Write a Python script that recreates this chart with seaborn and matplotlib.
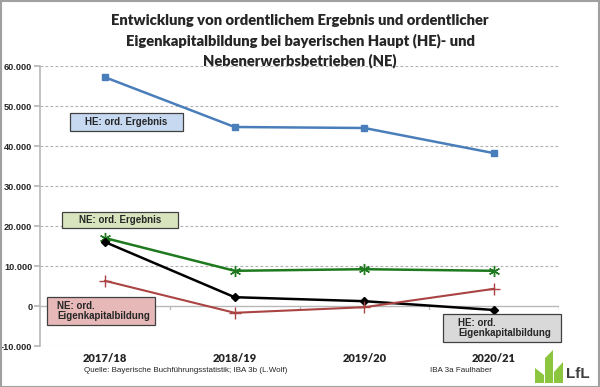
import numpy as np
import pandas as pd
import matplotlib
matplotlib.use("Agg")
import matplotlib.pyplot as plt
import matplotlib.patches as mpatches
import seaborn as sns

years = ["2017/18", "2018/19", "2019/20", "2020/21"]
he_ergebnis = [57200, 44750, 44500, 38200]
ne_ergebnis = [17000, 8800, 9200, 8800]
he_eigenkapital = [16000, 2200, 1200, -1000]
ne_eigenkapital = [6300, -1700, -300, 4300]
y_ticks = [-10000, 0, 10000, 20000, 30000, 40000, 50000, 60000]
y_tick_labels = ["-10.000", "0", "10.000", "20.000", "30.000", "40.000", "50.000", "60.000"]

sns.set_theme(style="white")
plt.rcParams["font.family"] = ["Liberation Sans", "DejaVu Sans"]

W, H = 600, 387
fig = plt.figure(figsize=(6, 3.87), dpi=100)
ax = fig.add_axes([40 / W, 1 - 346 / H, 519 / W, 280 / H])


def fx(px):
    return px / W


def fy(py):
    return 1 - py / H


x = np.arange(len(years))
series = [
    (he_ergebnis, "#4a7ebb", "s", 4, 1.8),
    (ne_ergebnis, "#1f7a1f", (6, 2, 0), 8, 1.8),
    (he_eigenkapital, "#000000", "D", 4, 1.8),
    (ne_eigenkapital, "#a94442", "+", 8, 1.5),
]
for vals, col, mk, ms, lw in series:
    df = pd.DataFrame({"x": x, "y": vals})
    sns.lineplot(data=df, x="x", y="y", ax=ax, color=col, marker=mk,
                 markersize=ms, linewidth=lw, markeredgecolor=col,
                 markeredgewidth=1.0)

ax.set_xlim(-0.5, 3.5)
ax.set_ylim(-10000, 60000)
ax.set_yticks(y_ticks)
ax.set_yticklabels(y_tick_labels, fontsize=6.6, fontweight="bold")
for yt in y_ticks:
    if yt != 0:
        ax.axhline(yt, color="#b0b0b0", linestyle=(0, (2.5, 2)), linewidth=0.8, zorder=0)
ax.axhline(0, color="#b8b8b8", linewidth=1.0, zorder=0)
for xb in [0.5, 1.5, 2.5, 3.5]:
    ax.plot([xb, xb], [0, -700], color="#b8b8b8", linewidth=1.0, zorder=0)
ax.set_xticks(x)
ax.set_xticklabels(years, fontsize=8, fontweight="heavy", family=["Lato", "DejaVu Sans"])
ax.tick_params(axis="x", length=0, pad=5)
ax.tick_params(axis="y", length=4, color="#b8b8b8", left=True, pad=1.5)
ax.set_xlabel("")
ax.set_ylabel("")
for s in ["top", "right", "bottom"]:
    ax.spines[s].set_visible(False)
ax.spines["left"].set_color("#b8b8b8")
ax.spines["left"].set_linewidth(1.2)


def label_box(x0, y0, x1, y1, fc, text, tx=None):
    fig.patches.append(mpatches.Rectangle((fx(x0), fy(y1)), fx(x1) - fx(x0), fy(y0) - fy(y1),
                                          transform=fig.transFigure, fc=fc, ec="#404040",
                                          lw=0.9, zorder=5))
    if tx is None:
        fig.text(fx((x0 + x1) / 2), fy((y0 + y1) / 2), text, ha="center", va="center",
                 fontsize=7, fontweight="bold", zorder=6)
    else:
        fig.text(fx(tx), fy((y0 + y1) / 2), text, ha="left", va="center",
                 multialignment="left", fontsize=7, fontweight="bold",
                 linespacing=1.1, zorder=6)


label_box(70, 113, 183, 131, "#c6d9f1", "HE: ord. Ergebnis")
label_box(62, 212, 178, 228, "#d7e4bd", "NE: ord. Ergebnis")
label_box(47, 297, 155, 325, "#e6b9b8", "NE: ord.\nEigenkapitalbildung", tx=57)
label_box(443, 314, 561, 342, "#d9d9d9", "HE: ord.\nEigenkapitalbildung", tx=458)

fig.text(0.5, fy(14), "Entwicklung von ordentlichem Ergebnis und ordentlicher\n"
         "Eigenkapitalbildung bei bayerischen Haupt (HE)- und\n"
         "Nebenerwerbsbetrieben (NE)", ha="center", va="top", fontsize=10.6,
         fontweight="heavy", linespacing=1.5, family=["Lato", "DejaVu Sans"])

fig.text(fx(186), fy(370), "Quelle: Bayerische Buchführungsstatistik; IBA 3b (L.Wolf)",
         ha="center", va="center", fontsize=5.8)
fig.text(fx(461), fy(370), "IBA 3a Faulhaber", ha="center", va="center", fontsize=5.8)

# LfL logo
lg = "#8cc63f"
for pts in [
    [(535, 383), (535, 368), (544, 375), (544, 383)],
    [(545, 383), (545, 358), (553, 350), (553, 383)],
    [(554, 383), (554, 372), (563, 362), (563, 383)],
]:
    fig.patches.append(mpatches.Polygon([(fx(a), fy(b)) for a, b in pts], closed=True,
                                        transform=fig.transFigure, fc=lg, ec="none"))
fig.text(fx(566), fy(374), "LfL", ha="left", va="center", fontsize=11, fontweight="bold",
         color="#404040")

fig.patches.append(mpatches.Rectangle((0.001, 0.001), 0.997, 0.997, transform=fig.transFigure,
                                      fill=False, ec="#a0a0a0", lw=1.5))

fig.savefig("out.png", dpi=100)
